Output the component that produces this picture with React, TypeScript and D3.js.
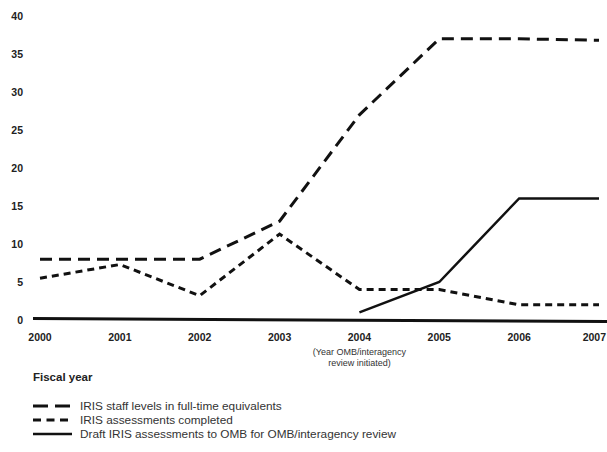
import React from "react";
import * as d3 from "d3";

const years = [2000, 2001, 2002, 2003, 2004, 2005, 2006, 2007];
const staffFTE = [8, 8, 8, 13, 27, 37, 37, 36.8];
const assessmentsCompleted = [5.5, 7.3, 3.2, 11.3, 4, 4, 2, 2];
const draftYears = [2004, 2005, 2006, 2007];
const draftToOMB = [1, 5, 16, 16];
const yTicks = [0, 5, 10, 15, 20, 25, 30, 35, 40];
const legendLabels = [
  "IRIS staff levels in full-time equivalents",
  "IRIS assessments completed",
  "Draft IRIS assessments to OMB for OMB/interagency review",
];

const W = 607;
const H = 452;
const font = "'Liberation Sans', Arial, Helvetica, sans-serif";
const ink = "#111";

export default function App() {
  const x = d3.scaleLinear().domain([2000, 2007]).range([40, 599]);
  const y = d3.scaleLinear().domain([0, 40]).range([320, 16]);
  const line = d3
    .line<[number, number]>()
    .x((d) => x(d[0]))
    .y((d) => y(d[1]));

  const staffPts = years.map((yr, i) => [yr, staffFTE[i]] as [number, number]);
  const assessPts = years.map((yr, i) => [yr, assessmentsCompleted[i]] as [number, number]);
  const draftPts = draftYears.map((yr, i) => [yr, draftToOMB[i]] as [number, number]);

  const longDash = "12 7";
  const shortDash = "7 5";

  return (
    <svg
      width={W}
      height={H}
      style={{ position: "absolute", left: 0, top: 0, background: "#fff" }}
      fontFamily={font}
    >
      <rect width={W} height={H} fill="#fff" />
      {/* y tick labels */}
      {yTicks.map((t) => (
        <text
          key={t}
          x={23}
          y={y(t)}
          dy="0.36em"
          textAnchor="end"
          fontSize={10.5}
          fontWeight="bold"
          fill="#222"
        >
          {t}
        </text>
      ))}
      {/* baseline */}
      <line x1={33} x2={W} y1={y(0) - 1.5} y2={y(0) + 1.5} stroke={ink} strokeWidth={3} />
      {/* x tick labels */}
      {years.map((yr, i) => {
        const last = i === years.length - 1;
        return (
          <text
            key={yr}
            x={last ? W - 1 : x(yr)}
            y={341}
            textAnchor={last ? "end" : "middle"}
            fontSize={10.5}
            fontWeight="bold"
            fill="#222"
          >
            {yr}
          </text>
        );
      })}
      <text x={x(2004)} y={355} textAnchor="middle" fontSize={9} fill="#333">
        (Year OMB/interagency
      </text>
      <text x={x(2004)} y={366} textAnchor="middle" fontSize={9} fill="#333">
        review initiated)
      </text>
      {/* series */}
      <path d={line(staffPts) || ""} fill="none" stroke={ink} strokeWidth={3} strokeDasharray={longDash} />
      <path d={line(assessPts) || ""} fill="none" stroke={ink} strokeWidth={3} strokeDasharray={shortDash} />
      <path d={line(draftPts) || ""} fill="none" stroke={ink} strokeWidth={2.5} />
      {/* legend */}
      <text x={33} y={381} fontSize={11.5} fontWeight="bold" fill="#222">
        Fiscal year
      </text>
      {legendLabels.map((lab, i) => {
        const ly = 406 + i * 14;
        const dash = i === 0 ? "15 7" : i === 1 ? "8 5.5" : undefined;
        return (
          <g key={lab}>
            <line
              x1={33}
              x2={72}
              y1={ly}
              y2={ly}
              stroke={ink}
              strokeWidth={i === 2 ? 2.5 : 3}
              strokeDasharray={dash}
            />
            <text x={80} y={ly} dy="0.35em" fontSize={11.8} fill="#333">
              {lab}
            </text>
          </g>
        );
      })}
    </svg>
  );
}
